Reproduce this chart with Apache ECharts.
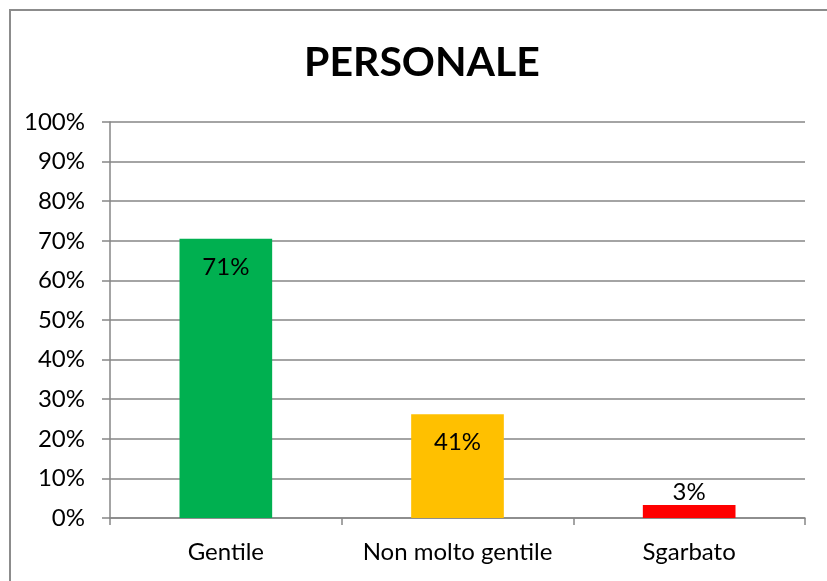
<!DOCTYPE html>
<html>
<head>
<meta charset="utf-8">
<script src="https://cdn.jsdelivr.net/npm/echarts@6/dist/echarts.min.js"></script>
<style>
  html, body { margin: 0; padding: 0; background: #fff; }
  #frame { position: absolute; left: 9px; top: 9px; width: 830px; height: 590px; border: 2px solid #8c8c8c; box-sizing: border-box; }
  #chart { position: absolute; left: 0; top: 0; width: 827px; height: 581px; }
</style>
</head>
<body>
<div id="frame"></div>
<div id="chart"></div>
<script>
const categories = ['Gentile', 'Non molto gentile', 'Sgarbato']
const values = [70.5, 26.2, 3.3]
const valueLabels = ['71%', '41%', '3%']
const barColors = ['#00B050', '#FFC000', '#FF0000']
const labelPositions = ['insideTop', 'insideTop', 'top']

const chart = echarts.init(document.getElementById('chart'))
const font = 'Lato, "Open Sans", sans-serif'

chart.setOption({
  animation: false,
  title: {
    text: 'PERSONALE',
    left: 417,
    textAlign: 'center',
    top: 37,
    textStyle: { fontFamily: font, fontSize: 41, fontWeight: 'bold', color: '#000' }
  },
  grid: { left: 110, top: 122, right: 22, bottom: 63 },
  xAxis: {
    type: 'category',
    data: categories,
    axisLine: { lineStyle: { color: '#868686', width: 1.5 } },
    axisTick: { show: true, length: 7, lineStyle: { color: '#868686', width: 1.5 } },
    axisLabel: { fontFamily: font, fontSize: 24, color: '#000', margin: 22, interval: 0 }
  },
  yAxis: {
    type: 'value',
    min: 0,
    max: 100,
    interval: 10,
    axisLine: { show: true, lineStyle: { color: '#868686', width: 1.5 } },
    axisTick: { show: true, length: 8, lineStyle: { color: '#868686', width: 1.5 } },
    axisLabel: { fontFamily: font, fontSize: 24, color: '#000', margin: 25, formatter: '{value}%' },
    splitLine: { lineStyle: { color: '#868686', width: 1.5 } }
  },
  series: [{
    type: 'bar',
    barWidth: '40%',
    data: values.map((v, i) => ({
      value: v,
      itemStyle: { color: barColors[i] },
      label: {
        show: true,
        position: labelPositions[i],
        distance: labelPositions[i] === 'top' ? 1 : 16,
        formatter: valueLabels[i],
        fontFamily: font,
        fontSize: 24,
        color: '#000'
      }
    }))
  }]
})
</script>
</body>
</html>
